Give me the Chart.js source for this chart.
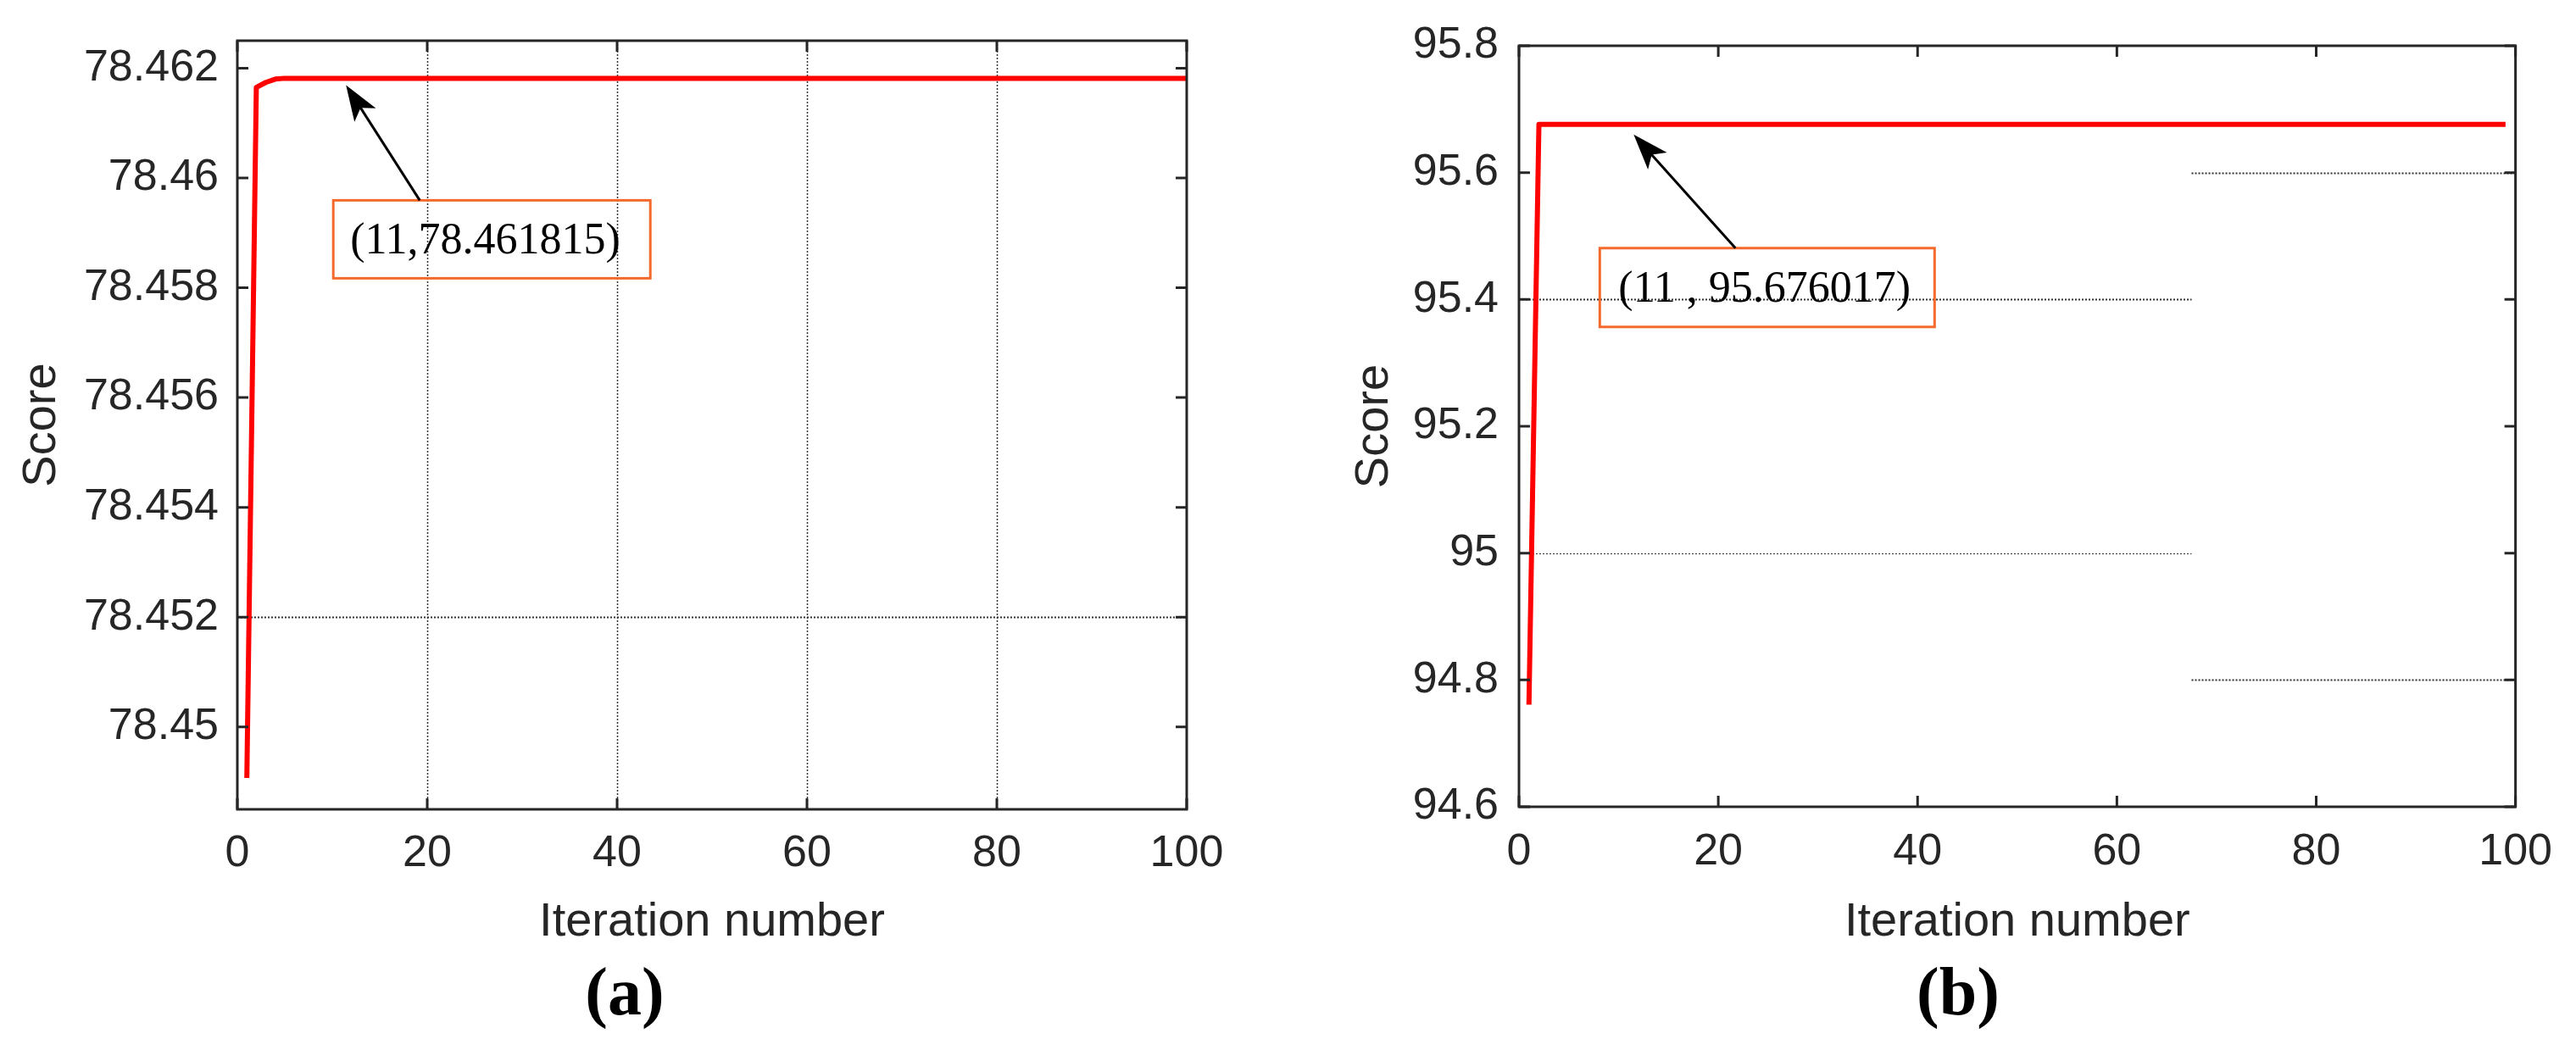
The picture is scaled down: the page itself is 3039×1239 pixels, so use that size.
<!DOCTYPE html>
<html>
<head>
<meta charset="utf-8">
<script src="https://cdn.jsdelivr.net/npm/chart.js@4/dist/chart.umd.min.js"></script>
<style>
  body { margin: 0; background: #fff; }
  .panel { position: absolute; top: 0; }
</style>
</head>
<body>
<div class="panel" style="left:0"><canvas id="chartA" width="1560" height="1239"></canvas></div>
<div class="panel" style="left:1560px"><canvas id="chartB" width="1479" height="1239"></canvas></div>
<script>
// (a) score per iteration, only the points where the curve changes
const iterA = [1, 2, 3, 4, 5, 100];
const scoreA = [78.44907, 78.46165, 78.46174, 78.4618, 78.461815, 78.461815];
const yTicksA = [78.45, 78.452, 78.454, 78.456, 78.458, 78.46, 78.462];
const gridXA = [20, 40, 60, 80];
const gridYA = [[78.452, 0, 100, 2]];

// (b)
const iterB = [1, 2, 99];
const scoreB = [94.761, 95.676017, 95.676017];
const yTicksB = [94.6, 94.8, 95, 95.2, 95.4, 95.6, 95.8];
const gridXB = [];
// [value, from iteration, to iteration, line width]
const gridYB = [[95.6, 67.5, 100, 2], [95.4, 0, 67.5, 2], [95, 0, 67.5, 1], [94.8, 67.5, 100, 2]];

const xTicks = [0, 20, 40, 60, 80, 100];

Chart.defaults.font.family = '"Liberation Sans", Arial, sans-serif';
Chart.defaults.color = "#262626";
const ink = "#262626";

// MATLAB style box: dotted grid under the data, frame and inward ticks on top
const matlabAxes = {
  id: "matlabAxes",
  beforeDatasetsDraw(chart, args, o) {
    const { ctx, chartArea: a, scales: { x, y } } = chart;
    ctx.save();
    ctx.strokeStyle = "#333";
    ctx.setLineDash([2, 2]);
    ctx.lineWidth = 1.5;
    o.gridX.forEach((v) => {
      const px = Math.round(x.getPixelForValue(v)) + 0.5;
      ctx.beginPath();
      ctx.moveTo(px, a.top);
      ctx.lineTo(px, a.bottom);
      ctx.stroke();
    });
    o.gridY.forEach(([v, from, to, w]) => {
      const py = Math.round(y.getPixelForValue(v)) + 0.5;
      ctx.lineWidth = w;
      ctx.beginPath();
      ctx.moveTo(x.getPixelForValue(from), py);
      ctx.lineTo(x.getPixelForValue(to), py);
      ctx.stroke();
    });
    ctx.restore();
  },
  afterDatasetsDraw(chart, args, o) {
    const { ctx, chartArea: a, scales: { x, y } } = chart;
    const len = o.tickLen;
    ctx.save();
    ctx.strokeStyle = ink;
    ctx.lineWidth = 3;
    ctx.beginPath();
    x.ticks.forEach((t) => {
      const px = x.getPixelForValue(t.value);
      ctx.moveTo(px, a.bottom);
      ctx.lineTo(px, a.bottom - len);
      ctx.moveTo(px, a.top);
      ctx.lineTo(px, a.top + len);
    });
    y.ticks.forEach((t) => {
      const py = y.getPixelForValue(t.value);
      ctx.moveTo(a.left, py);
      ctx.lineTo(a.left + len, py);
      ctx.moveTo(a.right, py);
      ctx.lineTo(a.right - len, py);
    });
    ctx.stroke();
    ctx.strokeRect(a.left, a.top, a.right - a.left, a.bottom - a.top);
    ctx.restore();
  },
};

// text box with arrow pointing at the converged value, plus the panel letter
const annotate = {
  id: "annotate",
  afterDraw(chart, args, o) {
    const { ctx, scales: { x, y } } = chart;
    const px = x.getPixelForValue(o.point[0]);
    const py = y.getPixelForValue(o.point[1]);
    const bx = px + o.box[0];
    const by = py + o.box[1];
    ctx.save();
    ctx.strokeStyle = "#f46a2c";
    ctx.lineWidth = 3;
    ctx.strokeRect(bx, by, o.box[2], o.box[3]);
    ctx.fillStyle = "#000";
    ctx.font = '52px "Liberation Serif", serif';
    ctx.textBaseline = "alphabetic";
    ctx.fillText(o.text, bx + o.textInset, by + 63);

    const sx = px + o.tail;
    const sy = by;
    const tx = px + o.tip[0];
    const ty = py + o.tip[1];
    const ang = Math.atan2(ty - sy, tx - sx);
    const head = 42;
    const half = 15;
    const c = Math.cos(ang);
    const s = Math.sin(ang);
    const hx = tx - head * c;
    const hy = ty - head * s;
    ctx.strokeStyle = "#000";
    ctx.lineWidth = 3;
    ctx.beginPath();
    ctx.moveTo(sx, sy);
    ctx.lineTo(tx - 30 * c, ty - 30 * s);
    ctx.stroke();
    ctx.beginPath();
    ctx.moveTo(tx, ty);
    ctx.lineTo(hx - half * s, hy + half * c);
    ctx.lineTo(tx - 32 * c, ty - 32 * s);
    ctx.lineTo(hx + half * s, hy - half * c);
    ctx.closePath();
    ctx.fill();

    ctx.font = 'bold 80px "Liberation Serif", serif';
    ctx.textAlign = "center";
    ctx.fillText(o.panel, o.panelX, 1197);
    ctx.restore();
  },
};

function makeChart(id, iters, scores, yTicks, yMin, yMax, cfg) {
  return new Chart(document.getElementById(id), {
    type: "line",
    data: {
      datasets: [
        {
          data: iters.map((it, i) => ({ x: it, y: scores[i] })),
          borderColor: "#ff0000",
          borderWidth: 6,
          pointRadius: 0,
          tension: 0,
          borderJoinStyle: "round",
        },
      ],
    },
    options: {
      responsive: false,
      animation: false,
      devicePixelRatio: 1,
      layout: { padding: cfg.padding },
      scales: {
        x: {
          type: "linear",
          min: 0,
          max: 100,
          afterBuildTicks: (s) => { s.ticks = xTicks.map((v) => ({ value: v })); },
          afterFit: (s) => { s.height = cfg.xHeight; },
          grid: { display: false, drawTicks: false },
          border: { display: false },
          ticks: {
            autoSkip: false,
            maxRotation: 0,
            padding: cfg.xPad,
            font: { size: 52, lineHeight: 1 },
            color: ink,
          },
          title: {
            display: true,
            text: "Iteration number",
            font: { size: 56 },
            color: ink,
            padding: { top: 0, bottom: 0 },
          },
        },
        y: {
          type: "linear",
          min: yMin,
          max: yMax,
          afterBuildTicks: (s) => { s.ticks = yTicks.map((v) => ({ value: v })); },
          afterFit: (s) => { s.width = cfg.yWidth; },
          grid: { display: false, drawTicks: false },
          border: { display: false },
          ticks: {
            autoSkip: false,
            padding: cfg.yPad,
            font: { size: 52, lineHeight: 1 },
            color: ink,
            callback: (v) => String(v),
          },
          title: {
            display: true,
            text: "Score",
            font: { size: 56 },
            color: ink,
            padding: { top: cfg.titlePad, bottom: 0 },
          },
        },
      },
      plugins: {
        legend: { display: false },
        tooltip: { enabled: false },
        matlabAxes: { tickLen: 13, gridX: cfg.gridX, gridY: cfg.gridY },
        annotate: cfg.note,
      },
    },
    plugins: [matlabAxes, annotate],
  });
}

makeChart("chartA", iterA, scoreA, yTicksA, 78.4485, 78.4625, {
  padding: { left: 0, top: 42, right: 160, bottom: 117 },
  xHeight: 167,
  yWidth: 280,
  xPad: 27,
  yPad: 22,
  titlePad: 16,
  gridX: gridXA,
  gridY: gridYA,
  note: {
    point: [11, 78.461815],
    text: "(11,78.461815)",
    box: [-10, 144, 374, 92],
    tail: 92,
    tip: [5, 8],
    textInset: 20,
    panel: "(a)",
    panelX: 737,
  },
});

makeChart("chartB", iterB, scoreB, yTicksB, 94.6, 95.8, {
  padding: { left: 0, top: 54, right: 63, bottom: 117 },
  xHeight: 170,
  yWidth: 232,
  xPad: 28,
  yPad: 24,
  titlePad: 28,
  gridX: gridXB,
  gridY: gridYB,
  note: {
    point: [11, 95.676017],
    text: "(11 , 95.676017)",
    box: [-34, 146, 395, 93],
    tail: 126,
    tip: [6, 12],
    textInset: 22,
    panel: "(b)",
    panelX: 750,
  },
});
</script>
</body>
</html>
